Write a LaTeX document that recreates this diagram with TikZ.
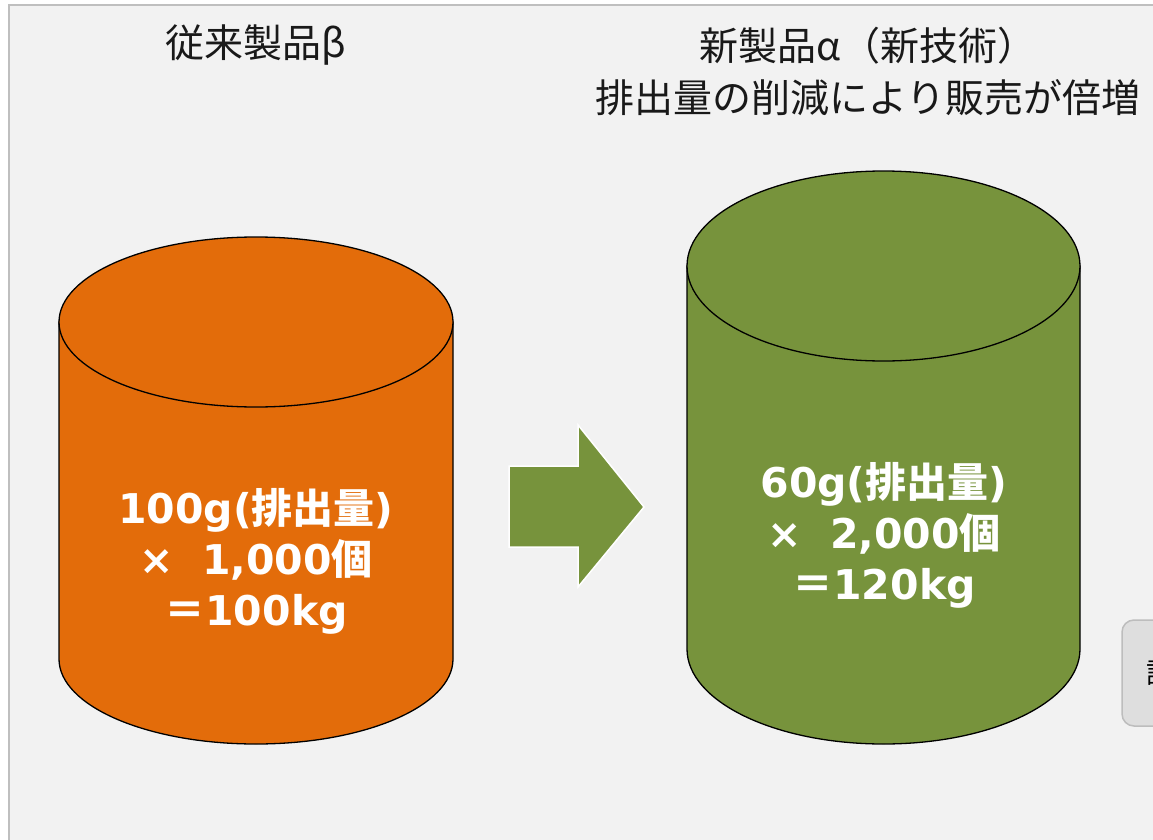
\documentclass[tikz,border=0pt]{standalone}
\usepackage{fontspec}
\newfontfamily\jp{Noto Sans CJK JP}
\newfontfamily\dv{DejaVu Sans}
\definecolor{bgc}{HTML}{F2F2F2}
\definecolor{framec}{HTML}{BFBFBF}
\definecolor{orangec}{HTML}{E36C0A}
\definecolor{greenc}{HTML}{77933C}
\definecolor{btnfill}{HTML}{DEDEDE}
\definecolor{btnline}{HTML}{BDBDBD}
\tikzset{
  cyl/.style={draw=black, line width=1.3pt},
  bodytext/.style={text=white, align=center, font=\fontsize{41}{51}\selectfont\bfseries},
  titletext/.style={text=black!90, align=center, font=\jp\fontsize{39}{52}\selectfont},
}
\newcommand{\lt}[1]{{\dv\bfseries #1}}
\newcommand{\jt}[1]{{\jp\bfseries #1}}
\begin{document}
\begin{tikzpicture}[x=1pt,y=-1pt]
\useasboundingbox (0,0) rectangle (1153,840);
\clip (0,0) rectangle (1153,840);
\fill[white] (0,0) rectangle (1153,840);
\draw[framec, fill=bgc, line width=2pt] (9,5) rectangle (1170,860);

% left cylinder
\draw[cyl, fill=orangec] (59,322) -- (59,659) arc[start angle=180, end angle=360, x radius=197pt, y radius=85pt] -- (453,322) -- cycle;
\draw[cyl, fill=orangec] (256,322) ellipse [x radius=197pt, y radius=85pt];
% right cylinder
\draw[cyl, fill=greenc] (687,266) -- (687,649) arc[start angle=180, end angle=360, x radius=196.5pt, y radius=95pt] -- (1080,266) -- cycle;
\draw[cyl, fill=greenc] (883.5,266) ellipse [x radius=196.5pt, y radius=95pt];

% arrow
\draw[white, line width=1.5pt, fill=greenc] (509,466) -- (578,466) -- (578,425) -- (644,507) -- (578,587) -- (578,547) -- (509,547) -- cycle;

% texts
\node[bodytext] (lefttext) at (256,561) {\lt{100g(}\jt{排出量}\lt{)}\\\lt{×\ \ 1,000}\jt{個}\\\jt{＝}\lt{100kg}};
\node[bodytext] (righttext) at (884,535) {\lt{60g(}\jt{排出量}\lt{)}\\\lt{×\ \ 2,000}\jt{個}\\\jt{＝}\lt{120kg}};

\node[titletext] (lefttitle) at (256,45) {従来製品β};
\node[titletext] (righttitle) at (868,71) {新製品α（新技術）\\排出量の削減により販売が倍増};

% partial button at right edge
\draw[btnline, fill=btnfill, line width=1.5pt, rounded corners=12pt] (1122,620) rectangle (1220,726);
\node[anchor=west, font=\jp\fontsize{28}{30}\selectfont, inner sep=0pt] (btn) at (1146,673) {詳細};
\end{tikzpicture}
\end{document}
